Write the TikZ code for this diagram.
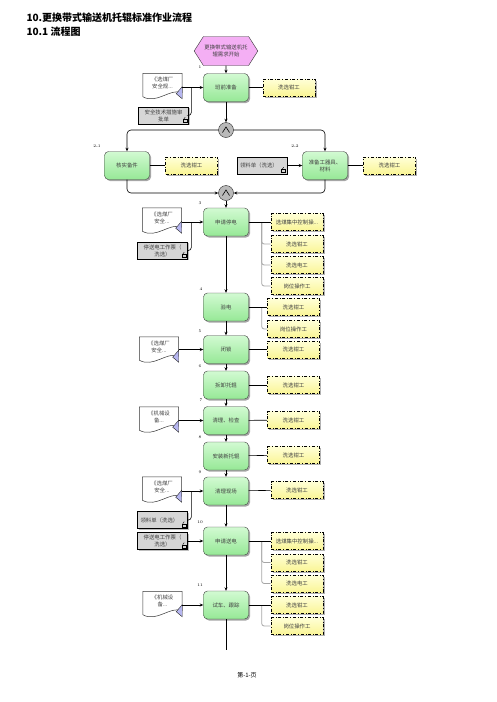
\documentclass[tikz,border=0pt]{standalone}
\usepackage{fontspec}
\newfontfamily\cjk{Noto Sans CJK SC}
\usetikzlibrary{shapes.symbols,shadows,arrows.meta}
\definecolor{taskhi}{RGB}{210,250,210}
\definecolor{tasklo}{RGB}{150,232,150}
\definecolor{rolehi}{RGB}{255,255,215}
\definecolor{rolelo}{RGB}{250,245,150}
\definecolor{evfill}{RGB}{244,175,244}
\definecolor{sheetfill}{RGB}{214,214,214}
\definecolor{tripurple}{RGB}{182,182,240}

\begin{document}
\begin{tikzpicture}[x=1pt,y=-1pt,
  txt/.style={font=\cjk\fontsize{5.4}{7}\selectfont, text=black!75},
  task/.style={txt, rounded corners=4pt, draw=gray!50!black, top color=taskhi, bottom color=tasklo,
    minimum width=45pt, minimum height=28pt, align=center, inner sep=1pt,
    drop shadow={shadow xshift=1.5pt, shadow yshift=-1.5pt, fill=gray!70, opacity=1}},
  role/.style={txt, draw=black, dash dot, line width=0.6pt, top color=rolehi, bottom color=rolelo,
    minimum width=52pt, minimum height=17pt, inner sep=1pt,
    drop shadow={shadow xshift=1.5pt, shadow yshift=-1.5pt, fill=gray!60, opacity=1}},
  sheet/.style={txt, draw=black, fill=sheetfill, text width=44pt, inner xsep=3pt, align=center,
    minimum height=17pt, inner ysep=1pt,
    drop shadow={shadow xshift=1pt, shadow yshift=-1pt, fill=gray!50, opacity=1}},
  docu/.style={txt, minimum width=39pt, minimum height=26pt, align=center, inner sep=0pt, text depth=7pt},
  startev/.style={txt, shape=signal, signal to=east and west, signal pointer angle=115,
    draw=gray!40!black, fill=evfill, minimum width=58pt, minimum height=29pt, align=center, inner sep=1pt},
  andgate/.style={circle, draw=gray!30!black, fill=gray!55, minimum size=15pt, inner sep=0pt},
  lbl/.style={font=\fontsize{4}{4}\selectfont, inner sep=0pt},
  ln/.style={draw=black, line width=0.6pt},
  arr/.style={ln, -{Stealth[length=3.5pt,width=3pt]}},
  br/.style={draw=gray!70, line width=0.8pt, rounded corners=2.5pt}
]
\useasboundingbox (0,0) rectangle (496,702);

% title
\node[anchor=west, font=\cjk\bfseries\fontsize{10}{12}\selectfont] (ttl) at (23,18) {10.更换带式输送机托辊标准作业流程};
\node[anchor=west, font=\cjk\bfseries\fontsize{10}{12}\selectfont] (sub) at (23,32) {10.1 流程图};

% step 1
\node[startev] (st) at (226,51) {更换带式输送机托\\辊需求开始};
\node[lbl] (n1) at (200,67) {1};
\node[task] (t1) at (226,87.5) {班前准备};
\node[docu] (d1) at (162.5,86.5) {《选煤厂\\安全规...};
\node[sheet] (s1) at (163.5,115.5) {安全技术措施审\\批单};
\node[role] (r1) at (289,87.5) {洗选钳工};
\node[andgate] (g1) at (226,130) {};

% step 2
\node[lbl] (n21) at (97,146) {2-1};
\node[lbl] (n22) at (295,146) {2-2};
\node[task] (t21) at (127,165.5) {核实备件};
\node[role] (r21) at (191.5,165.5) {洗选钳工};
\node[sheet, align=left] (s22) at (262,165.5) {领料单（洗选）};
\node[task] (t22) at (325,165.5) {准备工器具、\\材料};
\node[role] (r22) at (389.5,165.5) {洗选钳工};
\node[andgate] (g2) at (226,193) {};

% step 3
\node[lbl] (n3) at (200,203) {3};
\node[task] (t3) at (226,222) {申请停电};
\node[docu] (d3) at (162,221) {《选煤厂\\安全...};
\node[sheet] (s3) at (162.5,250.5) {停送电工作票（\\洗选）};
\node[role] (r3a) at (297,222) {选煤集中控制操...};
\node[role] (r3b) at (297,244) {洗选钳工};
\node[role] (r3c) at (297,265) {洗选电工};
\node[role] (r3d) at (297,286) {岗位操作工};

% step 4
\node[lbl] (n4) at (201,289) {4};
\node[task] (t4) at (226,307) {验电};
\node[role] (r4a) at (293.5,307) {洗选钳工};
\node[role] (r4b) at (293.5,329) {岗位操作工};

% step 5
\node[lbl] (n5) at (200,331) {5};
\node[task] (t5) at (226,349.5) {闭锁};
\node[docu] (d5) at (159,350) {《选煤厂\\安全...};
\node[role] (r5) at (293.5,349.5) {洗选钳工};

% step 6
\node[lbl] (n6) at (200,366) {6};
\node[task] (t6) at (226,385) {拆卸托辊};
\node[role] (r6) at (293.5,385) {洗选钳工};

% step 7
\node[lbl] (n7) at (201,400) {7};
\node[task] (t7) at (226,420.5) {清理、检查};
\node[docu] (d7) at (159,420) {《机械设\\备...};
\node[role] (r7) at (293.5,420) {洗选钳工};

% step 8
\node[lbl] (n8) at (200,437) {8};
\node[task] (t8) at (226,456) {安装新托辊};
\node[role] (r8) at (293.5,455) {洗选钳工};

% step 9
\node[lbl] (n9) at (200,472) {9};
\node[task] (t9) at (226,491) {清理现场};
\node[docu] (d9) at (162,490) {《选煤厂\\安全...};
\node[sheet, align=left] (s9) at (162.5,520) {领料单（洗选）};
\node[role] (r9) at (297,490) {洗选钳工};

% step 10
\node[lbl] (n10) at (200,522) {10};
\node[task] (t10) at (226,541) {申请送电};
\node[sheet] (s10) at (162.5,541) {停送电工作票（\\洗选）};
\node[role] (r10a) at (297,541) {选煤集中控制操...};
\node[role] (r10b) at (297,562.5) {洗选钳工};
\node[role] (r10c) at (297,583.5) {洗选电工};

% step 11
\node[lbl] (n11) at (200,585) {11};
\node[task] (t11) at (226,605) {试车、跟踪};
\node[docu] (d11) at (162.5,604.5) {《机械设\\备...};
\node[role] (r11a) at (297,605) {洗选钳工};
\node[role] (r11b) at (297,626) {岗位操作工};
\coordinate (e11) at (226,650);

\node[font=\cjk\fontsize{6}{7}\selectfont] (pg) at (247,675) {第-1-页};

% document shapes
\foreach \d in {d1,d3,d5,d7,d9,d11} {
  \draw[gray!40!black, line width=0.5pt] (\d.north west) -- (\d.north east) -- ([yshift=7pt]\d.south east)
    .. controls ([xshift=-12pt,yshift=12pt]\d.south east) and ([xshift=14pt,yshift=-5pt]\d.south west)
    .. ([yshift=3pt]\d.south west) -- cycle;
  \draw[gray!30!black, fill=tripurple, line width=0.4pt] ([yshift=13pt]\d.south east) -- ([yshift=1pt]\d.south east)
    -- ([xshift=-6pt,yshift=6pt]\d.south east) -- cycle;
}
% sheet icons
\foreach \s in {s1,s3,s22,s9,s10} {
  \draw[black, line width=0.4pt] ([shift={(-6pt,2pt)}]\s.south east) rectangle ([shift={(-2pt,5pt)}]\s.south east);
  \draw[black, line width=0.4pt] ([shift={(-5pt,5pt)}]\s.south east) -- ([shift={(-3.5pt,7pt)}]\s.south east);
}
% gate marks
\foreach \g in {g1,g2} {
  \draw[black, line width=0.6pt] ([shift={(-3.5pt,-2.5pt)}]\g.center) -- ([yshift=3pt]\g.center) -- ([shift={(3.5pt,-2.5pt)}]\g.center);
}

% main flow
\draw[arr] (st) -- (t1);
\draw[arr] (t1) -- (g1);
\draw[arr, rounded corners=4pt] (g1) -| (t21);
\draw[arr, rounded corners=4pt] (g1) -| (t22);
\draw[arr, rounded corners=4pt] (t21) |- (g2);
\draw[arr, rounded corners=4pt] (t22) |- (g2);
\draw[arr] (g2) -- (t3);
\draw[arr] (t3) -- (t4);
\draw[arr] (t4) -- (t5);
\draw[arr] (t5) -- (t6);
\draw[arr] (t6) -- (t7);
\draw[arr] (t7) -- (t8);
\draw[arr] (t8) -- (t9);
\draw[arr] (t9) -- (t10);
\draw[arr] (t10) -- (t11);
\draw[ln] (t11) -- (e11);

% inputs
\foreach \d/\t in {d1/t1,d3/t3,d5/t5,d7/t7,d9/t9,d11/t11}
  \draw[arr] (\t.west -| \d.east) -- (\t.west);
\draw[ln, rounded corners=3pt] (s1.east) -| ([xshift=-12pt]t1.west);
\draw[ln, rounded corners=3pt] (s3.east) -| ([xshift=-12pt]t3.west);
\draw[ln, rounded corners=3pt] (s9.east) -| ([xshift=-12pt]t9.west);
\draw[arr] (s22) -- (t22);
\draw[arr] (s10) -- (t10);

% roles
\foreach \t/\r in {t3/r3b,t3/r3c,t3/r3d,t4/r4b,t10/r10b,t10/r10c,t11/r11b}
  \draw[br] ([xshift=13pt]\t.east) |- (\r.west);
\foreach \t/\r in {t1/r1,t21/r21,t22/r22,t3/r3a,t4/r4a,t5/r5,t6/r6,t7/r7,t8/r8,t9/r9,t10/r10a,t11/r11a}
  \draw[ln] (\t) -- (\r);
\end{tikzpicture}
\end{document}
